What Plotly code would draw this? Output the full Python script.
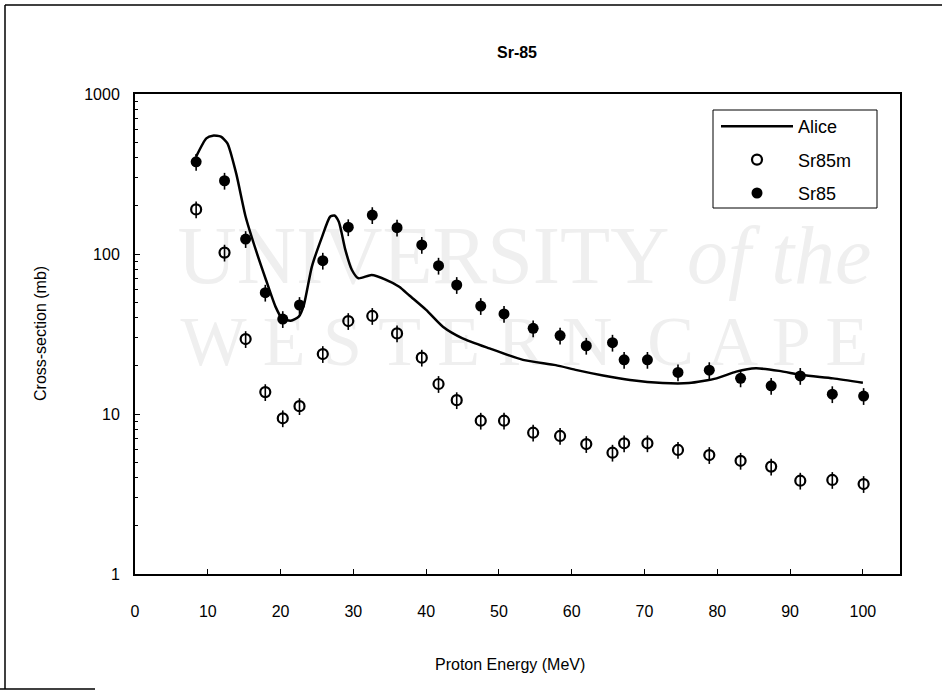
import plotly.graph_objects as go

# ---- data ----
alice_e = [8.4, 9.8, 10.7, 11.8, 12.7, 13.9, 15.2, 16.6, 18.0, 19.3, 20.2, 21.4, 22.5, 23.2,
           24.3, 25.7, 26.8, 27.4, 28.0, 28.9, 29.8, 30.7, 32.5, 34.5, 36.3, 37.7, 40.0,
           42.3, 45.0, 48.7, 53.3, 57.8, 60.7, 64.3, 68.0, 72.5, 76.1, 79.9, 82.6, 85.3,
           88.5, 91.7, 95.9, 100.0]
alice_v = [406, 528, 549, 541, 492, 319, 171, 106, 68.8, 46.9, 39.6, 38.3, 40.6, 48.0,
           83.4, 128, 171, 174, 159, 106, 79.4, 70.5, 73.9, 69.0, 62.5, 55.0, 44.7,
           35.1, 29.7, 25.7, 21.8, 20.2, 18.8, 17.4, 16.3, 15.6, 15.6, 16.7, 18.4, 19.3,
           18.6, 17.5, 16.7, 15.7]

sr85_e = [8.4, 12.3, 15.2, 17.9, 20.3, 22.6, 25.8, 29.3, 32.6, 36.0, 39.4, 41.7, 44.2,
          47.5, 50.7, 54.7, 58.4, 62.0, 65.6, 67.2, 70.4, 74.6, 78.9, 83.2, 87.4, 91.4,
          95.8, 100.1]
sr85_v = [377, 287, 124, 57.3, 39.2, 48.0, 90.8, 147, 175, 146, 114, 84.5, 64, 47.3,
          42.2, 34.3, 30.9, 26.7, 27.9, 21.8, 21.8, 18.2, 18.8, 16.7, 15.0, 17.3, 13.3, 12.95]

sr85m_e = sr85_e
sr85m_v = [190, 102, 29.4, 13.7, 9.4, 11.2, 23.7, 38.1, 41.0, 31.9, 22.5, 15.4, 12.2,
           9.08, 9.08, 7.64, 7.29, 6.49, 5.73, 6.56, 6.56, 5.96, 5.54, 5.10, 4.69, 3.83,
           3.87, 3.65]

x_ticks = [0, 10, 20, 30, 40, 50, 60, 70, 80, 90, 100]
y_ticks = [1, 10, 100, 1000]
y_ticktext = ["1", "10", "100", "1000"]

watermark_text = ["UNIVERSITY <i>of the</i>", "W E S T E R N  C A P E"]

FONT = "Liberation Sans Narrow, Arial Narrow, Liberation Sans, Arial, sans-serif"

fig = go.Figure()

# faint scan watermark, drawn first so it stays behind the data
fig.add_trace(go.Scatter(
    x=[53.5, 53.5], y=[88, 26], mode="text", text=watermark_text,
    textfont=dict(family="Liberation Serif", size=[82, 70], color="#efefef"),
    showlegend=False, hoverinfo="skip",
))

fig.add_trace(go.Scatter(
    x=alice_e, y=alice_v, mode="lines", name="Alice", legendgroup="a",
    line=dict(color="black", width=2.5, shape="spline", smoothing=0.6),
))
fig.add_trace(go.Scatter(
    x=sr85m_e, y=sr85m_v, mode="markers", name="Sr85m", legendgroup="b",
    marker=dict(symbol="circle-open", size=10, color="black", line=dict(width=2.2, color="black")),
    error_y=dict(type="percent", value=12, color="black", thickness=1.6, width=0),
))
fig.add_trace(go.Scatter(
    x=sr85_e, y=sr85_v, mode="markers", name="Sr85", legendgroup="c",
    marker=dict(symbol="circle", size=11, color="black", line=dict(width=0)),
    error_y=dict(type="percent", value=12, color="black", thickness=1.6, width=0),
))

L, R, T, B = 135, 42, 94, 119
W, H = 942, 693
pw, ph = W - L - R, H - T - B


def px(xp):
    return (xp - L) / pw


def py(yp):
    return (H - B - yp) / ph


fig.update_layout(
    width=W, height=H,
    margin=dict(l=L, r=R, t=T, b=B),
    paper_bgcolor="white", plot_bgcolor="rgba(0,0,0,0)",
    font=dict(family=FONT, size=15, color="black"),
    title=dict(text="<b>Sr-85</b>", x=px(517), xref="paper", y=1 - 52 / H,
               yanchor="middle", xanchor="center", font=dict(size=16, family=FONT)),
    showlegend=True,
    legend=dict(x=px(716), y=py(108), xanchor="left", yanchor="top",
                borderwidth=0, bgcolor="rgba(255,255,255,0)",
                font=dict(size=18, family=FONT), tracegroupgap=7, itemwidth=72),
    xaxis=dict(range=[0, 105.1], tickvals=x_ticks, ticks="inside", ticklen=5,
               tickcolor="black", showline=True, linecolor="black", linewidth=2,
               mirror=True, showgrid=False, zeroline=False, ticklabelstandoff=22,
               tickfont=dict(size=16, family=FONT)),
    yaxis=dict(type="log", range=[0, 3], tickvals=y_ticks, ticktext=y_ticktext,
               ticks="inside", ticklen=5, tickcolor="black", showline=True,
               linecolor="black", linewidth=2, mirror=True, showgrid=False,
               zeroline=False, ticklabelstandoff=10,
               minor=dict(ticks="inside", ticklen=3, tickcolor="black", showgrid=False,
                          tickvals=[m * d for d in [1, 10, 100] for m in range(2, 10)]),
               tickfont=dict(size=16, family=FONT)),
)

# legend box
fig.add_shape(type="rect", xref="paper", yref="paper", x0=px(713), x1=px(877),
              y0=py(208), y1=py(110), line=dict(color="black", width=1))

# axis titles
fig.add_annotation(text="Proton Energy (MeV)", x=px(510), y=py(664), xref="paper", yref="paper",
                   showarrow=False, font=dict(size=16, family=FONT), xanchor="center", yanchor="middle")
fig.add_annotation(text="Cross-section (mb)", x=px(40), y=py(334), xref="paper", yref="paper",
                   showarrow=False, textangle=-90, font=dict(size=16, family=FONT),
                   xanchor="center", yanchor="middle")

# outer frame of the scanned page (top and left, short bottom piece)
frame = dict(color="black", width=1.5)
fig.add_shape(type="line", xref="paper", yref="paper", x0=px(5), x1=px(942), y0=py(5), y1=py(5), line=frame)
fig.add_shape(type="line", xref="paper", yref="paper", x0=px(5), x1=px(5), y0=py(5), y1=py(689), line=frame)
fig.add_shape(type="line", xref="paper", yref="paper", x0=px(0), x1=px(95), y0=py(689), y1=py(689), line=frame)

fig.write_html("out.html")
